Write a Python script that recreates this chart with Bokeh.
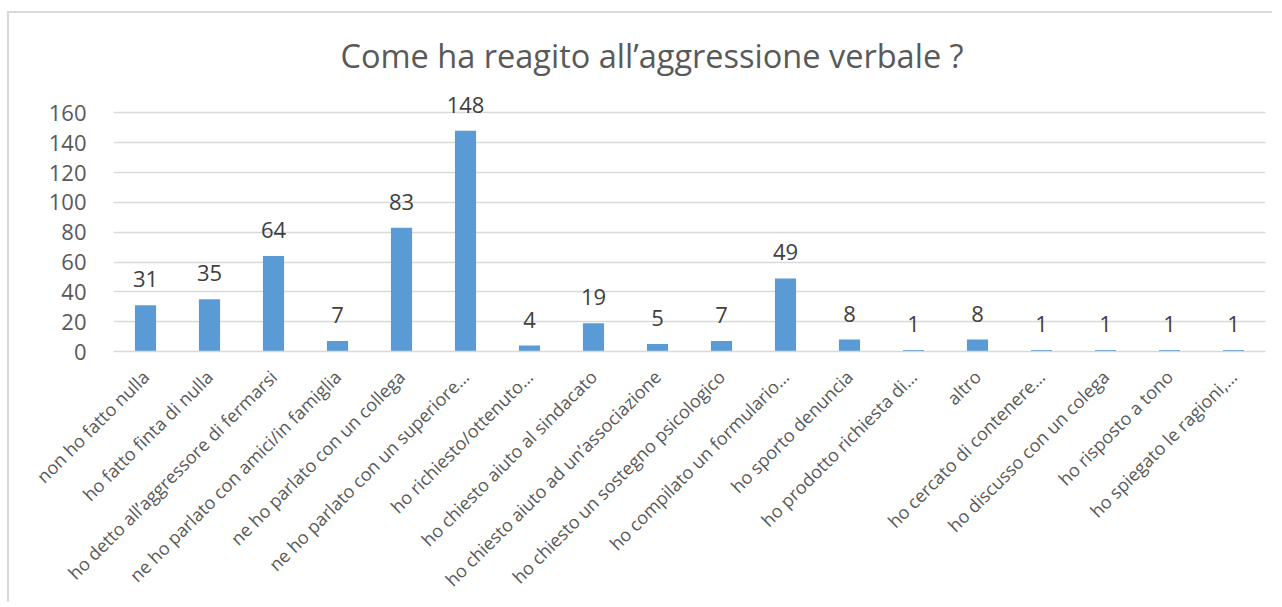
import math
from bokeh.plotting import figure
from bokeh.models import ColumnDataSource, Label, Range1d, FactorRange, Title
from bokeh.embed import file_html
from bokeh.resources import INLINE

categories = [
    "non ho fatto nulla",
    "ho fatto finta di nulla",
    "ho detto all\u2019aggressore di fermarsi",
    "ne ho parlato con amici/in famiglia",
    "ne ho parlato con un collega",
    "ne ho parlato con un superiore\u2026",
    "ho richiesto/ottenuto\u2026",
    "ho chiesto aiuto al sindacato",
    "ho chiesto aiuto ad un\u2019associazione",
    "ho chiesto un sostegno psicologico",
    "ho compilato un formulario\u2026",
    "ho sporto denuncia",
    "ho prodotto richiesta di\u2026",
    "altro",
    "ho cercato di contenere\u2026",
    "ho discusso con un colega",
    "ho risposto a tono",
    "ho spiegato le ragioni,\u2026",
]
values = [31, 35, 64, 7, 83, 148, 4, 19, 5, 7, 49, 8, 1, 8, 1, 1, 1, 1]
y_ticks = [0, 20, 40, 60, 80, 100, 120, 140, 160]

FONT = "Open Sans"
TXT = "#595959"

src = ColumnDataSource(dict(cat=categories, val=values))

# range extends a little above the top tick so the top data label is not clipped
p = figure(
    x_range=FactorRange(*categories, range_padding=0),
    y_range=Range1d(0, 175),
    width=1265, height=591,
    output_backend="svg", toolbar_location=None,
    min_border_left=104, min_border_right=9,
    min_border_top=77, min_border_bottom=253,
)
p.title = Title(text="Come ha reagito all\u2019aggressione verbale ?", align="left",
                text_font=FONT, text_font_size="32.5px", text_color=TXT,
                text_font_style="normal", standoff=25, offset=227)

p.vbar(x="cat", top="val", width=0.33, source=src, fill_color="#5B9BD5", line_color=None)

# data labels (synthetic categorical coordinate of factor i is i + 0.5)
for i, v in enumerate(values):
    p.add_layout(Label(x=i + 0.5, y=v, text=str(v), text_align="center",
                       text_baseline="alphabetic", y_offset=26, text_font=FONT,
                       text_font_size="22px", text_color="#404040"))

p.outline_line_color = None
p.xgrid.grid_line_color = None
p.ygrid.grid_line_color = "#d9d9d9"
p.ygrid.grid_line_width = 1.5
p.yaxis.ticker = y_ticks
p.yaxis.axis_line_color = None
p.yaxis.major_tick_line_color = None
p.yaxis.minor_tick_line_color = None
p.yaxis.major_label_text_font = FONT
p.yaxis.major_label_text_font_size = "22px"
p.yaxis.major_label_text_color = TXT
p.yaxis.major_label_standoff = 21

p.xaxis.axis_line_color = "#d9d9d9"
p.xaxis.axis_line_width = 1.5
p.xaxis.major_tick_line_color = None
p.xaxis.minor_tick_line_color = None
p.xaxis.major_label_orientation = math.pi / 4
p.xaxis.major_label_text_font = FONT
p.xaxis.major_label_text_font_size = "18px"
p.xaxis.major_label_text_color = TXT
p.xaxis.major_label_standoff = 16

p.styles = {"border-top": "2px solid #d9d9d9", "border-left": "2px solid #d9d9d9",
            "margin-left": "7px", "margin-top": "11px"}

open("out.html", "w").write(file_html(p, INLINE))
